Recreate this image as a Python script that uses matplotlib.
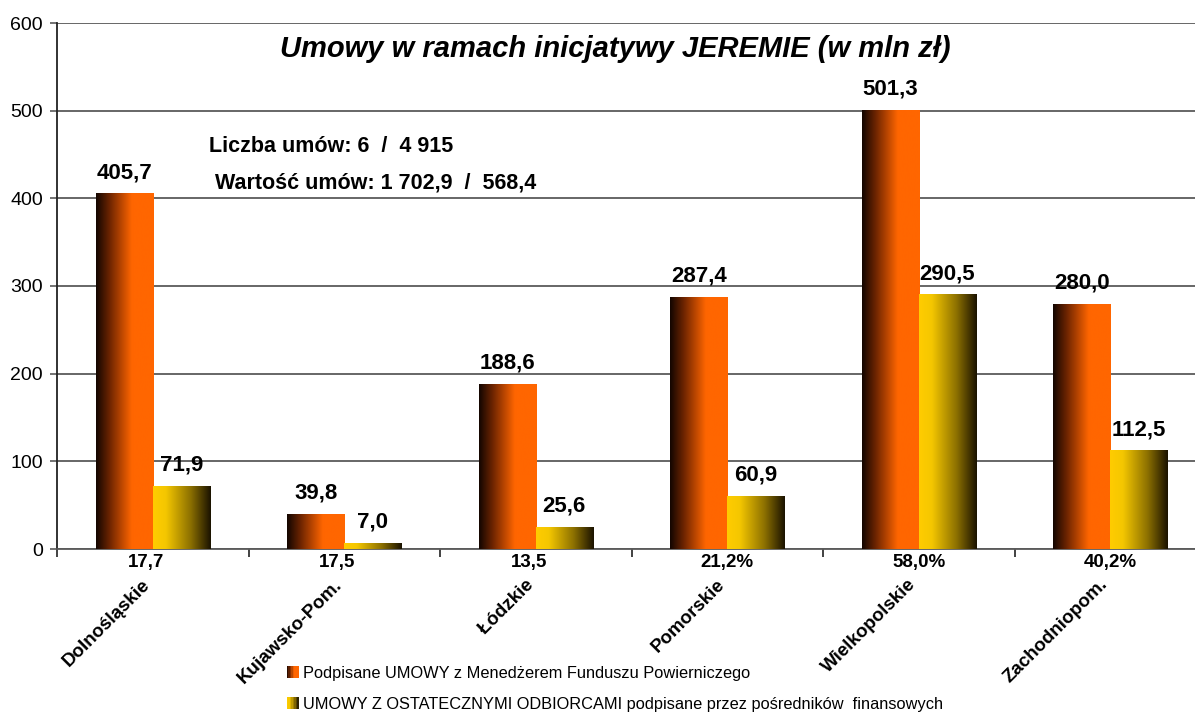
import numpy as np
import matplotlib
matplotlib.use("Agg")
import matplotlib.pyplot as plt
from matplotlib.colors import LinearSegmentedColormap
from matplotlib.patches import Rectangle
from matplotlib.legend_handler import HandlerBase
from matplotlib import transforms

plt.rcParams['font.family'] = ['Liberation Sans', 'DejaVu Sans']

# ---------------- data ----------------
categories = ["Dolnośląskie", "Kujawsko-Pom.", "Łódzkie", "Pomorskie", "Wielkopolskie", "Zachodniopom."]
umowy_fundusz = [405.7, 39.8, 188.6, 287.4, 501.3, 280.0]
umowy_odbiorcy = [71.9, 7.0, 25.6, 60.9, 290.5, 112.5]
bottom_labels = ["17,7", "17,5", "13,5", "21,2%", "58,0%", "40,2%"]
value_fmt = lambda v: f"{v:.1f}".replace(".", ",")
series_names = ["Podpisane UMOWY z Menedżerem Funduszu Powierniczego",
                "UMOWY Z OSTATECZNYMI ODBIORCAMI podpisane przez pośredników  finansowych"]
title = "Umowy w ramach inicjatywy JEREMIE (w mln zł)"
note1 = "Liczba umów: 6  /  4 915"
note2 = "Wartość umów: 1 702,9  /  568,4"
yticks = [0, 100, 200, 300, 400, 500, 600]

W, H = 1195, 713
fig = plt.figure(figsize=(W / 100, H / 100), dpi=100)
ax = fig.add_axes([57 / W, (H - 549) / H, (W - 57) / W, 526 / H])

orange_cmap = LinearSegmentedColormap.from_list(
    "org", [(0.0, (0.07, 0.02, 0.0)), (0.25, (0.45, 0.15, 0.0)), (0.62, (1.0, 0.40, 0.0)), (1.0, (1.0, 0.40, 0.0))])
yellow_cmap = LinearSegmentedColormap.from_list(
    "yel", [(0.0, (1.0, 0.80, 0.0)), (0.22, (0.96, 0.78, 0.0)), (0.65, (0.55, 0.44, 0.0)), (1.0, (0.10, 0.07, 0.0))])

x = np.arange(len(categories))
bw = 0.298
bars1 = ax.bar(x - bw / 2, umowy_fundusz, bw, color="#ff6600", zorder=3)
bars2 = ax.bar(x + bw / 2, umowy_odbiorcy, bw, color="#ffcc00", zorder=3)

grad = np.linspace(0, 1, 256).reshape(1, -1)
for bars, cmap in ((bars1, orange_cmap), (bars2, yellow_cmap)):
    for p in bars:
        x0, y0, w, h = p.get_x(), p.get_y(), p.get_width(), p.get_height()
        im = ax.imshow(grad, cmap=cmap, extent=(x0, x0 + w, y0, y0 + h),
                       aspect="auto", interpolation="bicubic", zorder=4)
        im.set_clip_path(p)

for bars, vals in ((bars1, umowy_fundusz), (bars2, umowy_odbiorcy)):
    for p, v in zip(bars, vals):
        ax.annotate(value_fmt(v), (p.get_x() + p.get_width() / 2, p.get_height()),
                    xytext=(0, 11), textcoords="offset points", ha="center", va="baseline",
                    fontsize=16, fontweight="bold", zorder=6)

ax.set_xlim(-0.5, -0.5 + 1138 / 191.5)
ax.set_ylim(0, 600)
ax.set_yticks(yticks)
ax.set_yticklabels([str(t) for t in yticks], fontsize=14)
ax.yaxis.grid(True, color="#5a5a5a", lw=1.3, zorder=1)
ax.set_axisbelow(True)
ax.tick_params(axis="y", length=5, color="#5a5a5a", width=1.2, pad=5)
ax.set_xticks(np.arange(-0.5, 5.0, 1.0))
ax.set_xticklabels([])
ax.tick_params(axis="x", length=6, color="#222222", width=1.2)
for s in ("top", "right"):
    ax.spines[s].set_visible(False)
ax.spines["left"].set_color("#222222")
ax.spines["left"].set_linewidth(1.3)
ax.spines["bottom"].set_color("#5a5a5a")
ax.spines["bottom"].set_linewidth(1.3)

trans = transforms.blended_transform_factory(ax.transData, fig.transFigure)
for i, (cat, bl) in enumerate(zip(categories, bottom_labels)):
    dx = 0 if bl.endswith("%") else -7
    ax.annotate(bl, (i, 1 - 563 / H), xycoords=trans, xytext=(dx * 0.72, 0),
                textcoords="offset points", ha="center", va="center",
                fontsize=13.5, fontweight="bold")
    ax.annotate(cat, (i, 1 - 582 / H), xycoords=trans, xytext=(-5 * 0.72, 0),
                textcoords="offset points", ha="right", va="center",
                rotation=45, rotation_mode="anchor", fontsize=13.5, fontweight="bold")

fig.text(615 / W, 1 - 49 / H, title, ha="center", va="center",
         fontsize=21, fontweight="bold", fontstyle="italic")
fig.text(209 / W, 1 - 147 / H, note1, ha="left", va="center", fontsize=15.5, fontweight="bold")
fig.text(215 / W, 1 - 183 / H, note2, ha="left", va="center", fontsize=15.5, fontweight="bold")


class GradHandler(HandlerBase):
    def __init__(self, cmap):
        super().__init__()
        self.cmap = cmap

    def create_artists(self, legend, orig_handle, xdescent, ydescent, width, height, fontsize, trans):
        n = 8
        arts = []
        for k in range(n):
            r = Rectangle((-xdescent + width * k / n, -ydescent), width / n + 0.3, height,
                          facecolor=self.cmap((k + 0.5) / n), edgecolor="none", transform=trans)
            arts.append(r)
        return arts


h1 = Rectangle((0, 0), 1, 1)
h2 = Rectangle((0, 0), 1, 1)
leg = fig.legend([h1, h2], series_names, loc="upper left", bbox_to_anchor=(287 / W, 1 - 666 / H),
                 frameon=False, fontsize=11.8, handlelength=0.7, handleheight=0.75,
                 handletextpad=0.3, labelspacing=0.98, borderpad=0, borderaxespad=0,
                 handler_map={h1: GradHandler(orange_cmap), h2: GradHandler(yellow_cmap)})

fig.savefig("out.png", dpi=100)
